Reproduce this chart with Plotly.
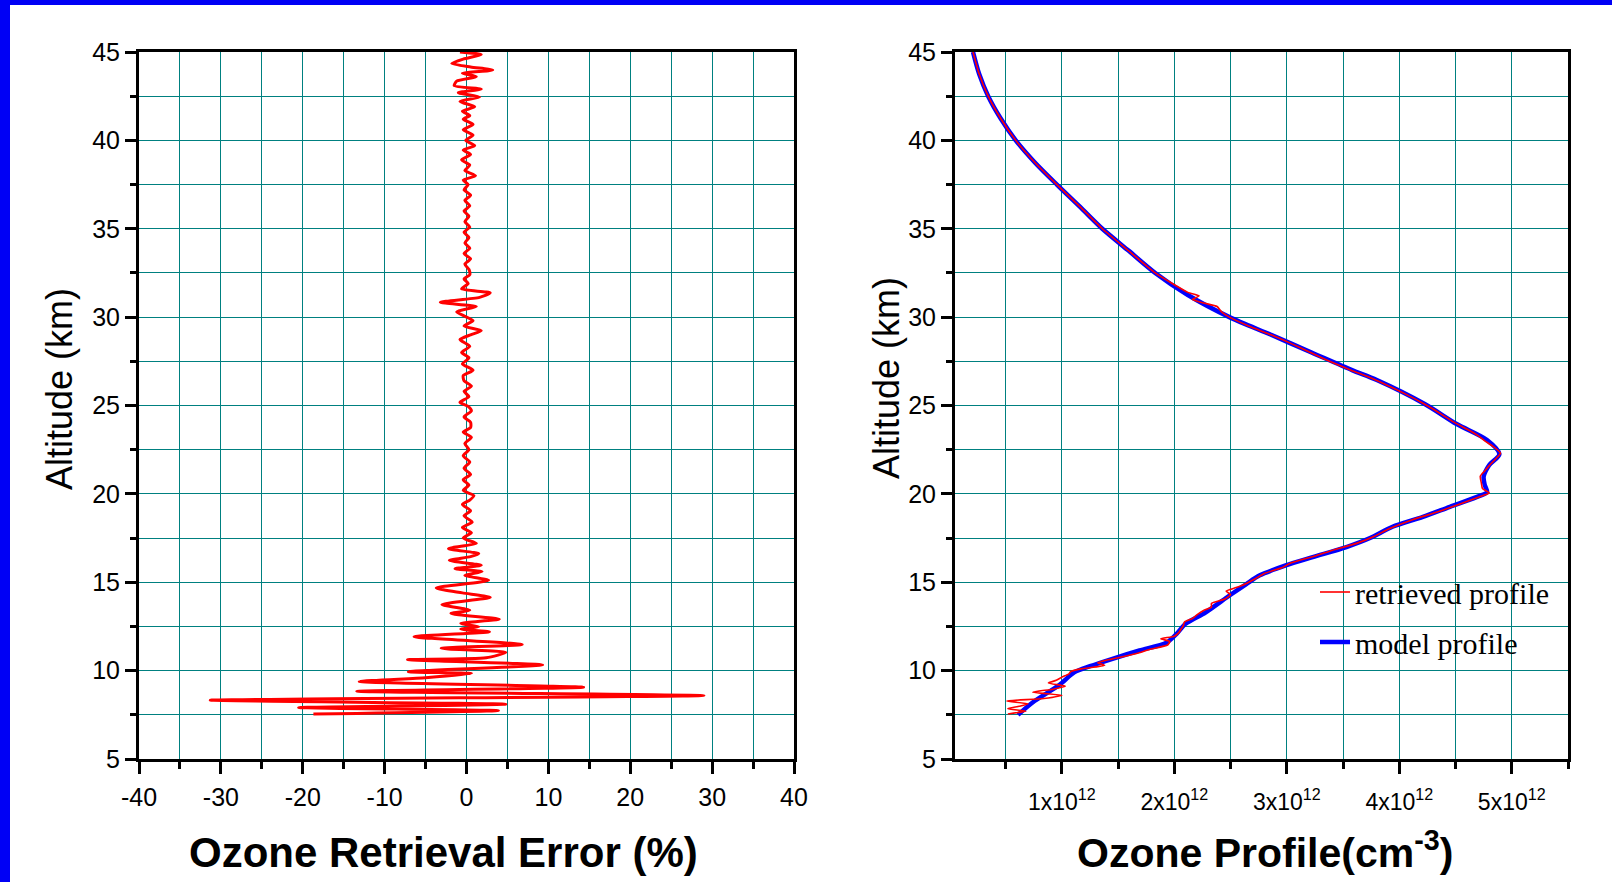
import plotly.graph_objects as go

# ---------------- data ----------------
# Left panel: ozone retrieval error (%) versus altitude (km)
err_alt = [7.54, 7.74, 7.91, 8.10, 8.33, 8.59, 8.83, 9.06, 9.38, 9.60, 9.83, 9.94,
           10.32, 10.62, 10.73, 11.03, 11.26, 11.48, 11.92, 12.20, 12.35, 12.48, 12.67,
           12.91, 13.23, 13.42, 13.74, 14.14, 14.40, 14.68, 15.11, 15.39, 15.60, 15.77,
           15.96, 16.24, 16.45, 16.62, 16.90, 17.20, 17.50, 17.80, 18.10, 18.40, 18.76,
           19.05, 19.40, 19.65, 19.90, 20.20, 20.50, 20.80, 21.10, 21.45, 21.80, 22.16,
           22.50, 22.85, 23.20, 23.50, 23.75, 24.05, 24.35, 24.70, 24.95, 25.18, 25.50,
           25.80, 26.10, 26.40, 26.69, 27.00, 27.35, 27.70, 28.00, 28.35, 28.73, 29.00,
           29.24, 29.50, 29.80, 30.05, 30.30, 30.60, 30.84, 31.12, 31.37, 31.60, 31.90,
           32.16, 32.40, 32.70, 33.00, 33.30, 33.60, 33.90, 34.20, 34.50, 34.80, 35.10,
           35.40, 35.70, 36.00, 36.30, 36.60, 36.90, 37.20, 37.50, 37.75, 38.00, 38.30,
           38.60, 38.90, 39.20, 39.45, 39.70, 40.00, 40.30, 40.60, 40.90, 41.20, 41.40,
           41.65, 41.90, 42.20, 42.45, 42.70, 42.90, 43.10, 43.35, 43.60, 43.80, 43.98,
           44.15, 44.35, 44.60, 44.85, 45.00]
err_pct = [-18.7, 3.9, -20.5, 4.8, -31.3, 29.0, -13.4, 14.3, -13.1, -5.0, 0.6, -7.1,
           9.3, -7.2, 2.4, 4.8, -3.1, 6.8, -6.4, 2.8, -0.7, 1.5, -0.7,
           4.0, -1.9, 0.4, -3.0, 2.9, -0.5, -3.7, 2.7, -0.2, 1.9, -1.4,
           1.8, -2.1, 0.5, 1.5, -2.2, 1.2, -0.4, 0.6, -0.5, 0.7, -0.3,
           0.5, -0.5, 0.4, 0.9, -0.4, 0.3, -0.4, 0.5, -0.3, 0.4, -0.4,
           0.3, -0.2, 0.6, -0.4, 0.5, 0.5, -0.3, 0.6, 0.2, -0.8, 0.3,
           -0.3, 0.6, -0.3, -0.4, 0.8, -0.5, 0.3, -0.6, 0.4, -0.8, 0.5,
           1.8, -0.3, 0.8, -0.2, -1.2, 1.2, -3.2, 1.6, 2.9, -0.6, 0.2,
           -0.3, 0.4, 0.3, -0.2, 0.5, -0.3, 0.4, -0.2, 0.3, -0.3, 0.4,
           -0.2, 0.3, -0.3, 0.4, -0.2, 0.5, -0.3, 0.2, -0.4, 1.1, -0.2,
           0.4, -0.6, 0.5, -0.4, 1.0, -0.1, 0.8, -0.4, 0.8, -0.4, 0.4,
           -0.5, 1.0, -0.8, 1.6, -1.0, 1.8, -1.5, -1.2, 1.2, -0.5, 3.2,
           0.5, -1.8, -0.4, 1.8, -0.8]

# Right panel: ozone number density (units of 1e12 cm^-3) versus altitude (km)
model_alt = [7.5, 8.2, 9.2, 9.9, 10.25, 10.67, 11.14, 11.58, 12.08, 12.65, 13.3, 14.25,
             14.9, 15.39, 15.95, 16.42, 16.99, 17.5, 18.14, 18.7, 19.27, 19.9, 20.1, 20.5,
             20.97, 21.63, 22.25, 23.05, 23.95, 25.07, 26.44, 27.0, 28.0, 29.0, 30.0,
             31.25, 32.5, 33.75, 35.0, 36.25, 37.5, 38.75, 40.0, 41.25, 42.5, 43.75, 45.0]
model_o3 = [0.61, 0.74, 0.98, 1.11, 1.25, 1.45, 1.69, 1.93, 2.02, 2.10, 2.28, 2.49,
            2.64, 2.76, 2.99, 3.23, 3.53, 3.74, 3.94, 4.21, 4.45, 4.72, 4.78, 4.76,
            4.75, 4.80, 4.89, 4.78, 4.51, 4.23, 3.80, 3.58, 3.22, 2.86, 2.49,
            2.12, 1.83, 1.595, 1.36, 1.16, 0.956, 0.76, 0.59, 0.455, 0.345, 0.265, 0.21]

retr_alt = [7.55, 7.7, 7.85, 7.98, 8.12, 8.28, 8.42, 8.6, 8.78, 8.95, 9.12, 9.3, 9.45,
            9.63, 9.8, 9.95, 10.1, 10.3, 10.45, 10.6, 10.8, 11.0, 11.2, 11.45, 11.65,
            11.8, 11.95, 12.15, 12.35, 12.55, 12.75, 12.95, 13.15, 13.4, 13.6, 13.8,
            14.05, 14.3, 14.5, 14.7, 14.9, 15.2, 15.5, 15.8, 16.1, 16.5, 16.8, 17.2,
            17.6, 18.0, 18.5, 19.0, 19.5, 19.9, 20.05, 20.3, 20.6, 21.0, 21.3, 21.6,
            22.0, 22.3, 22.7, 23.0, 23.3, 23.6, 24.0, 24.4, 24.8, 25.2, 25.6, 26.0,
            26.5, 27.0, 27.5, 28.0, 28.5, 29.0, 29.5, 30.0, 30.3, 30.6, 30.8, 31.0,
            31.2, 31.4, 32.5, 33.75, 35.0, 36.25, 37.5, 38.75, 40.0, 41.25, 42.5,
            43.75, 45.0]
retr_o3 = [0.52, 0.68, 0.52, 0.62, 0.70, 0.51, 0.84, 1.00, 0.74, 0.92, 1.03, 0.88, 0.95,
           1.00, 1.06, 1.08, 1.17, 1.38, 1.32, 1.40, 1.55, 1.68, 1.78, 1.94, 1.96,
           1.88, 2.00, 2.04, 2.06, 2.08, 2.09, 2.16, 2.20, 2.26, 2.33, 2.33,
           2.45, 2.50, 2.46, 2.55, 2.63, 2.72, 2.80, 2.95, 3.04, 3.26, 3.40, 3.62,
           3.78, 3.90, 4.10, 4.35, 4.57, 4.74, 4.80, 4.74, 4.73, 4.72, 4.76, 4.80,
           4.86, 4.90, 4.83, 4.76, 4.70, 4.62, 4.50, 4.40, 4.30, 4.19, 4.07, 3.94,
           3.77, 3.57, 3.38, 3.21, 3.04, 2.86, 2.66, 2.49, 2.42, 2.38, 2.26, 2.16,
           2.22, 2.12, 1.83, 1.595, 1.36, 1.16, 0.956, 0.76, 0.59, 0.455, 0.345,
           0.265, 0.21]

left_tickvals = [-40, -30, -20, -10, 0, 10, 20, 30, 40]
left_ticktext = ["-40", "-30", "-20", "-10", "0", "10", "20", "30", "40"]
right_tickvals = [1, 2, 3, 4, 5]
right_ticktext = ["1x10<sup>12</sup>", "2x10<sup>12</sup>", "3x10<sup>12</sup>",
                  "4x10<sup>12</sup>", "5x10<sup>12</sup>"]

# ---------------- figure ----------------
W, H = 1612, 882
GRID = "#008080"
SANS = "Liberation Sans, Arial, sans-serif"

fig = go.Figure()

fig.add_trace(go.Scatter(x=err_pct, y=err_alt, mode="lines", xaxis="x", yaxis="y",
                         line=dict(color="#ff0000", width=3, shape="spline", smoothing=0.6),
                         showlegend=False))
fig.add_trace(go.Scatter(x=model_o3, y=model_alt, mode="lines", xaxis="x2", yaxis="y2",
                         name="model profile", legendrank=2, legendgroup="b",
                         line=dict(color="#0000ff", width=4.5, shape="spline", smoothing=0.8)))
fig.add_trace(go.Scatter(x=retr_o3, y=retr_alt, mode="lines", xaxis="x2", yaxis="y2",
                         name="retrieved profile", legendrank=1, legendgroup="a",
                         line=dict(color="#ff0000", width=1.6, shape="spline", smoothing=0.5)))

yb, yt = 123 / H, 830 / H

axis_common = dict(showline=True, linecolor="black", linewidth=3, mirror=True,
                   ticks="outside", tickcolor="black", tickwidth=3,
                   showgrid=True, gridcolor=GRID, gridwidth=1, zeroline=False,
                   automargin=False)
yminor = dict(dtick=2.5, ticks="outside", ticklen=6, tickwidth=3, tickcolor="black",
              showgrid=True, gridcolor=GRID, gridwidth=1)

fig.update_layout(
    width=W, height=H,
    margin=dict(l=0, r=0, t=0, b=0),
    paper_bgcolor="white", plot_bgcolor="white",
    xaxis=dict(domain=[139 / W, 794 / W], range=[-40, 40], tickvals=left_tickvals,
               ticktext=left_ticktext, ticklen=12, ticklabelstandoff=2, anchor="y",
               minor=dict(dtick=5, ticks="outside", ticklen=7, tickwidth=3, tickcolor="black",
                          showgrid=True, gridcolor=GRID, gridwidth=1),
               tickfont=dict(family=SANS, size=25, color="black"), **axis_common),
    yaxis=dict(domain=[yb, yt], range=[5, 45], dtick=5, tick0=0, ticklen=11, anchor="x",
               minor=yminor, tickfont=dict(family=SANS, size=25, color="black"),
               **axis_common),
    xaxis2=dict(domain=[955 / W, 1568 / W], range=[0.05, 5.5], tickvals=right_tickvals,
                ticktext=right_ticktext, ticklen=12, ticklabelstandoff=8, anchor="y2",
                minor=dict(tickvals=[0.5, 1.5, 2.5, 3.5, 4.5, 5.5], ticks="outside", ticklen=7,
                           tickwidth=3, tickcolor="black", showgrid=True, gridcolor=GRID,
                           gridwidth=1),
                tickfont=dict(family=SANS, size=23, color="black"), **axis_common),
    yaxis2=dict(domain=[yb, yt], range=[5, 45], dtick=5, tick0=0, ticklen=11, anchor="x2",
                minor=yminor, tickfont=dict(family=SANS, size=25, color="black"),
                **axis_common),
    legend=dict(x=1315 / W, y=1 - 566 / H, xanchor="left", yanchor="top",
                bgcolor="rgba(0,0,0,0)", borderwidth=0, tracegroupgap=8,
                font=dict(family="Liberation Serif, Times New Roman, serif", size=30,
                          color="black")),
    shapes=[
        dict(type="rect", xref="paper", yref="paper", x0=0, x1=10 / W, y0=0, y1=1,
             fillcolor="#0000f5", line=dict(width=0), layer="above"),
        dict(type="rect", xref="paper", yref="paper", x0=0, x1=1, y0=1 - 5 / H, y1=1,
             fillcolor="#0000f5", line=dict(width=0), layer="above"),
    ],
    annotations=[
        dict(text="Altitude (km)", xref="paper", yref="paper", x=59 / W, y=1 - 389 / H,
             textangle=-90, showarrow=False, xanchor="center", yanchor="middle",
             font=dict(family=SANS, size=36, color="black")),
        dict(text="Altitude (km)", xref="paper", yref="paper", x=886 / W, y=1 - 378 / H,
             textangle=-90, showarrow=False, xanchor="center", yanchor="middle",
             font=dict(family=SANS, size=36, color="black")),
        dict(text="<b>Ozone Retrieval Error (%)</b>", xref="paper", yref="paper",
             x=443 / W, y=1 - 852 / H, showarrow=False, xanchor="center", yanchor="middle",
             font=dict(family=SANS, size=42, color="black")),
        dict(text="<b>Ozone Profile(cm<sup>-3</sup>)</b>", xref="paper", yref="paper",
             x=1265 / W, y=1 - 850 / H, showarrow=False, xanchor="center", yanchor="middle",
             font=dict(family=SANS, size=41, color="black")),
    ],
)

fig.write_html("out.html",
               config={"displayModeBar": False},
               post_script="document.body.style.margin='0px';"
                           "document.body.style.overflow='hidden';")
